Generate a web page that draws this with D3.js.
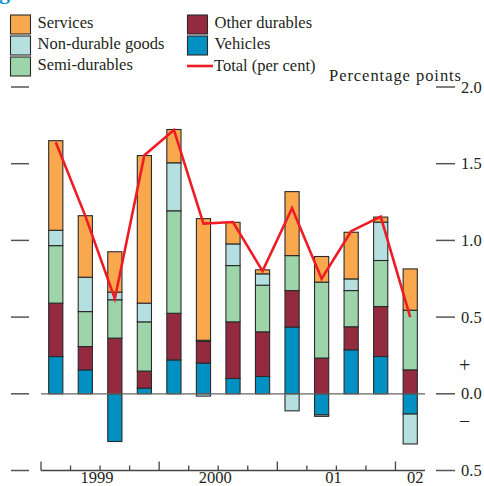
<!DOCTYPE html>
<html><head><meta charset="utf-8">
<script src="https://cdn.jsdelivr.net/npm/d3@7"></script>
<style>
html,body{margin:0;padding:0;background:#fff;}
svg{display:block;}
text{font-family:"Liberation Serif","DejaVu Serif",serif;fill:#231f20;}
</style></head>
<body>
<script>
const quarters = ["1999Q1","1999Q2","1999Q3","1999Q4","2000Q1","2000Q2","2000Q3","2000Q4","2001Q1","2001Q2","2001Q3","2001Q4","2002Q1"];
const services      = [0.584, 0.401, 0.263, 0.962, 0.217, 0.793, 0.141, 0.026, 0.417, 0.167, 0.304, 0.033, 0.269];
const nonDurable    = [0.100, 0.224, 0.050, 0.122, 0.313, -0.015, 0.141, 0.074, -0.111, -0.010, 0.076, 0.250, -0.195];
const semiDurables  = [0.375, 0.228, 0.250, 0.321, 0.668, 0.008, 0.367, 0.304, 0.228, 0.495, 0.236, 0.300, 0.389];
const otherDurables = [0.348, 0.152, 0.363, 0.111, 0.304, 0.141, 0.369, 0.291, 0.238, 0.233, 0.150, 0.326, 0.156];
const vehicles      = [0.243, 0.156, -0.311, 0.037, 0.221, 0.200, 0.100, 0.113, 0.435, -0.137, 0.287, 0.243, -0.132];
const total         = [1.64, 1.16, 0.62, 1.555, 1.72, 1.11, 1.12, 0.80, 1.21, 0.75, 1.06, 1.155, 0.50];
const yTicks = [2.0, 1.5, 1.0, 0.5, 0.0, -0.5];
const yTickLabels = ["2.0","1.5","1.0","0.5","0.0","0.5"];
const years = ["1999","2000","01","02"];

const W = 484, H = 486;
const svg = d3.select("body").append("svg").attr("width", W).attr("height", H);

const keys = ["vehicles","otherDurables","semiDurables","nonDurable","services"];
const colors = {services:"#f9a84e", nonDurable:"#b6e0df", semiDurables:"#9dd4aa", otherDurables:"#932a40", vehicles:"#0090c2"};
const rows = quarters.map((q,i)=>({q, services:services[i], nonDurable:nonDurable[i], semiDurables:semiDurables[i], otherDurables:otherDurables[i], vehicles:vehicles[i]}));

const x = d3.scaleBand().domain(quarters).range([41, 425]).paddingInner(0.52).paddingOuter(0.26);
const y = d3.scaleLinear().domain([-0.5, 2.0]).range([470.5, 87]);

// truncated title descender (title sits above the visible area)
svg.append("text").attr("x", -1).attr("y", -1).attr("font-size", 22).attr("font-weight","bold")
  .style("fill","#0a8fce").text("g");

// ticks left & right
svg.append("g").selectAll("line").data(yTicks).join("line")
  .attr("x1", 11).attr("x2", 29).attr("y1", d=>y(d)).attr("y2", d=>y(d))
  .attr("stroke","#555").attr("stroke-width",1.5);
svg.append("g").selectAll("line").data(yTicks).join("line")
  .attr("x1", 436).attr("x2", 455).attr("y1", d=>y(d)).attr("y2", d=>y(d))
  .attr("stroke","#555").attr("stroke-width",1.5);
svg.append("g").selectAll("text").data(yTicks).join("text")
  .attr("x", 461).attr("y", d=>y(d)+5.5).attr("font-size", 16.5)
  .text((d,i)=>yTickLabels[i]);
svg.append("text").attr("x", 459).attr("y", y(0.18)+6).attr("font-size", 20).text("+");
svg.append("text").attr("x", 460).attr("y", y(-0.17)+6).attr("font-size", 18).text("\u2013");
svg.append("text").attr("x", 329).attr("y", 81).attr("font-size", 16.5).attr("letter-spacing", 0.95).text("Percentage points");

// bars
const stack = d3.stack().keys(keys).offset(d3.stackOffsetDiverging);
const series = stack(rows);
svg.append("g").selectAll("g").data(series).join("g")
  .attr("fill", d=>colors[d.key])
  .selectAll("rect").data(d=>d).join("rect")
  .attr("x", d=>x(d.data.q)).attr("width", x.bandwidth())
  .attr("y", d=>y(Math.max(d[0],d[1])))
  .attr("height", d=>Math.abs(y(d[0])-y(d[1])))
  .attr("stroke","#2a2a2a").attr("stroke-width",1.1);

// zero line
svg.append("line").attr("x1",41).attr("x2",425).attr("y1",y(0)).attr("y2",y(0))
  .attr("stroke","#666").attr("stroke-width",1.2);

// total line
const line = d3.line().x((d,i)=>x(quarters[i])+x.bandwidth()/2).y(d=>y(d));
svg.append("path").datum(total).attr("d", line).attr("fill","none")
  .attr("stroke","#ee1c25").attr("stroke-width",2.6).attr("stroke-linejoin","miter");

// x axis
const step = x.step();
const axY = y(-0.5);
svg.append("line").attr("x1",41).attr("x2",425).attr("y1",axY).attr("y2",axY).attr("stroke","#444").attr("stroke-width",1.3);
const tickIdx = d3.range(0, 13);
svg.append("g").selectAll("line").data(tickIdx).join("line")
  .attr("x1", k=>41+k*step).attr("x2", k=>41+k*step)
  .attr("y1", axY).attr("y2", k=> k%4===0 ? axY-9 : axY-5)
  .attr("stroke","#444").attr("stroke-width",1.3);
const yearPos = years.map((yr,j)=>{
  const qs = quarters.filter((q,i)=>Math.floor(i/4)===j);
  const m = d3.mean(qs, q=>x(q)+x.bandwidth()/2);
  return qs.length === 4 ? m - 3 : m + 5;
});
svg.append("g").selectAll("text").data(years).join("text")
  .attr("x",(d,j)=>yearPos[j]).attr("y",483).attr("text-anchor","middle").attr("font-size",16.5).text(d=>d);

// legend
const leg1 = [["services","Services"],["nonDurable","Non-durable goods"],["semiDurables","Semi-durables"]];
const leg2 = [["otherDurables","Other durables"],["vehicles","Vehicles"]];
function legendCol(items, x0){
  items.forEach(([k,label],i)=>{
    const yy = 15 + i*21;
    svg.append("rect").attr("x",x0).attr("y",yy).attr("width",20).attr("height",19)
      .attr("fill",colors[k]).attr("stroke","#2a2a2a").attr("stroke-width",1.1);
    svg.append("text").attr("x",x0+27).attr("y",yy+13).attr("font-size",16.5).text(label);
  });
}
legendCol(leg1, 10.5);
legendCol(leg2, 187.5);
svg.append("line").attr("x1",187).attr("x2",213).attr("y1",66).attr("y2",66).attr("stroke","#ee1c25").attr("stroke-width",2.6);
svg.append("text").attr("x",214).attr("y",71).attr("font-size",16.5).text("Total (per cent)");
</script>
</body></html>
